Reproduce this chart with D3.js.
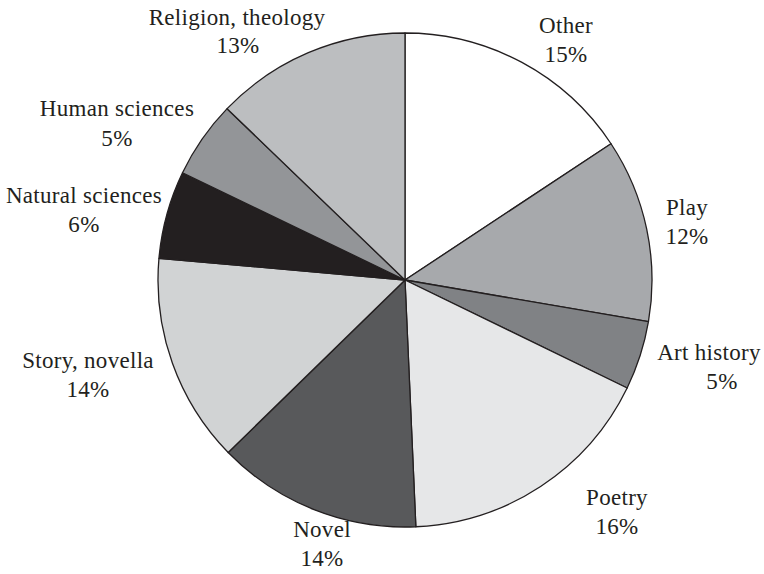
<!DOCTYPE html>
<html>
<head>
<meta charset="utf-8">
<script src="https://cdn.jsdelivr.net/npm/d3@7/dist/d3.min.js"></script>
<style>
  html, body { margin: 0; padding: 0; background: #fff; }
  svg { display: block; }
  text { font-family: "Liberation Serif", "Times New Roman", serif; fill: #231f20; }
</style>
</head>
<body>
<svg id="chart" width="764" height="574"></svg>
<script>
// Categories in clockwise order starting at 12 o'clock
const categories = ["Other", "Play", "Art history", "Poetry", "Novel", "Story, novella", "Natural sciences", "Human sciences", "Religion, theology"];
// Slice shares as drawn
const shares = [15.7, 12.0, 4.5, 17.1, 13.4, 13.7, 5.75, 5.05, 12.8];
// Percent labels as printed
const percentLabels = ["15%", "12%", "5%", "16%", "14%", "14%", "6%", "5%", "13%"];
const fills = ["#ffffff", "#a7a9ac", "#808285", "#e6e7e8", "#58595b", "#d1d3d4", "#231f20", "#939598", "#bcbec0"];

// Label anchor positions: [name x, name baseline, pct x, pct baseline]
const labelPos = [
  [566, 33, 566, 62],
  [687, 215, 687, 244],
  [709, 360, 722, 389],
  [617, 505, 617, 534],
  [322, 537, 322, 566],
  [88, 368, 88, 397],
  [84, 203, 84, 232],
  [117, 116, 117, 146],
  [237, 25, 238, 53]
];

const svg = d3.select("#chart");
const cx = 405, cy = 280, r = 247;

const pie = d3.pie().sort(null).value(d => d.v).startAngle(0).endAngle(2 * Math.PI);
const arc = d3.arc().innerRadius(0).outerRadius(r);
const data = categories.map((c, i) => ({ c, v: shares[i], fill: fills[i] }));

const g = svg.append("g").attr("transform", `translate(${cx},${cy})`);
g.selectAll("path")
  .data(pie(data))
  .join("path")
  .attr("d", arc)
  .attr("fill", d => d.data.fill)
  .attr("stroke", "#231f20")
  .attr("stroke-width", 1.3)
  .attr("stroke-linejoin", "round");

const labels = svg.append("g");
categories.forEach((c, i) => {
  const p = labelPos[i];
  labels.append("text")
    .attr("x", p[0]).attr("y", p[1])
    .attr("text-anchor", "middle")
    .attr("font-size", 23)
    .attr("letter-spacing", 0.3)
    .text(c);
  labels.append("text")
    .attr("x", p[2]).attr("y", p[3])
    .attr("text-anchor", "middle")
    .attr("font-size", 23)
    .attr("letter-spacing", 0.3)
    .text(percentLabels[i]);
});
</script>
</body>
</html>
